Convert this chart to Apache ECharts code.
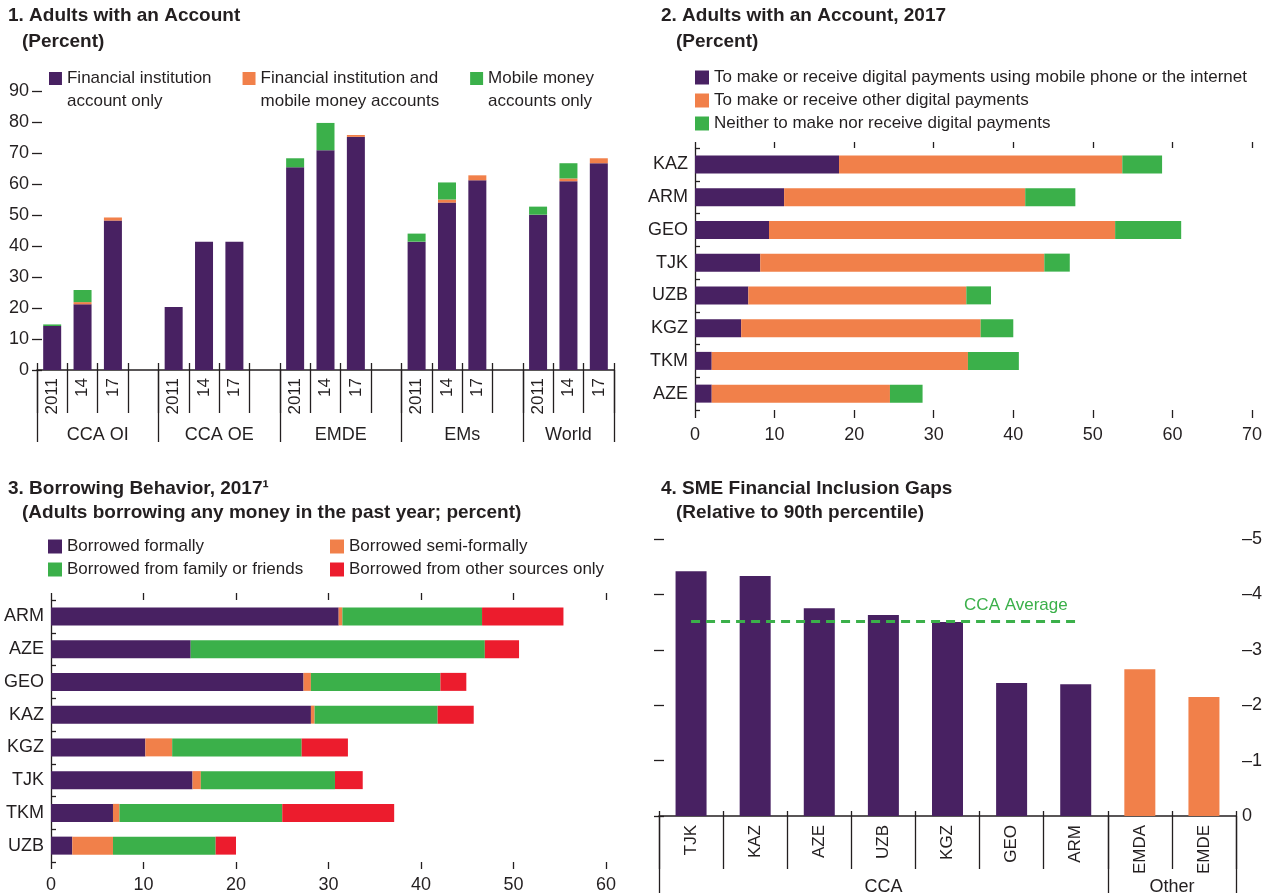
<!DOCTYPE html>
<html><head><meta charset="utf-8">
<script src="https://cdn.jsdelivr.net/npm/echarts@6/dist/echarts.min.js"></script>
<style>html,body{margin:0;padding:0;background:#fff}#c{width:1268px;height:896px}</style>
</head><body><div id="c"></div>
<script>
// ---------- Panel 1: Adults with an Account (Percent) ----------
const p1Groups = ['CCA OI', 'CCA OE', 'EMDE', 'EMs', 'World'];
const p1Years = ['2011', '14', '17'];
const p1FinOnly = [14.2, 21.2, 48.2, 20.3, 41.4, 41.4, 65.4, 70.9, 75.2, 41.4, 54.0, 61.2, 50.1, 60.9, 66.7];
const p1Both    = [0, 0.7, 1.0, 0, 0, 0, 0, 0, 0.6, 0, 1.0, 1.6, 0, 0.9, 1.6];
const p1Mobile  = [0.5, 3.9, 0, 0, 0, 0, 2.9, 8.8, 0, 2.6, 5.5, 0, 2.6, 4.9, 0];
const p1SeriesNames = ['Financial institution account only', 'Financial institution and mobile money accounts', 'Mobile money accounts only'];
const p1LegendText = ['Financial institution\naccount only', 'Financial institution and\nmobile money accounts', 'Mobile money\naccounts only'];

// ---------- Panel 2: Adults with an Account, 2017 ----------
const p2Countries = ['KAZ', 'ARM', 'GEO', 'TJK', 'UZB', 'KGZ', 'TKM', 'AZE'];
const p2MobileInternet = [18.1, 11.2, 9.3, 8.2, 6.7, 5.8, 2.1, 2.1];
const p2OtherDigital   = [35.6, 30.3, 43.5, 35.7, 27.4, 30.1, 32.2, 22.4];
const p2Neither        = [5.0, 6.3, 8.3, 3.2, 3.1, 4.1, 6.4, 4.1];
const p2SeriesNames = ['To make or receive digital payments using mobile phone or the internet', 'To make or receive other digital payments', 'Neither to make nor receive digital payments'];

// ---------- Panel 3: Borrowing Behavior, 2017 ----------
const p3Countries = ['ARM', 'AZE', 'GEO', 'KAZ', 'KGZ', 'TJK', 'TKM', 'UZB'];
const p3Formal = [31.1, 15.1, 27.3, 28.1, 10.2, 15.3, 6.7, 2.3];
const p3Semi   = [0.4, 0, 0.8, 0.4, 2.9, 0.9, 0.7, 4.4];
const p3Family = [15.1, 31.8, 14.0, 13.3, 14.0, 14.5, 17.6, 11.1];
const p3Other  = [8.8, 3.7, 2.8, 3.9, 5.0, 3.0, 12.1, 2.2];
const p3SeriesNames = ['Borrowed formally', 'Borrowed semi-formally', 'Borrowed from family or friends', 'Borrowed from other sources only'];

// ---------- Panel 4: SME Financial Inclusion Gaps ----------
const p4Countries = ['TJK', 'KAZ', 'AZE', 'UZB', 'KGZ', 'GEO', 'ARM', 'EMDA', 'EMDE'];
const p4Group = ['CCA', 'CCA', 'CCA', 'CCA', 'CCA', 'CCA', 'CCA', 'Other', 'Other'];
const p4Gap = [-4.42, -4.33, -3.75, -3.63, -3.50, -2.40, -2.38, -2.65, -2.15];
const p4CcaAverage = -3.51;
const p4GroupNames = ['CCA', 'Other'];

// ---------- styling ----------
const PURPLE = '#482162', ORANGE = '#f1804a', GREEN = '#3bb04a', RED = '#ec1c2d';
const TXT = '#231f20';
const F = '"Liberation Sans", Arial, sans-serif';
const FS = 18;      // axis labels
const FSL = 17;     // legend
const FSR = 17;     // rotated category labels
const FST = 19;     // titles

function toSlots(arr) {
  const out = [];
  p1Groups.forEach((g, gi) => {
    p1Years.forEach((y, yi) => { const v = arr[gi * 3 + yi]; out.push(v ? v : null); });
    if (gi < p1Groups.length - 1) out.push(null);
  });
  return out;
}
const p1SlotLabels = [];
p1Groups.forEach((g, gi) => { p1Years.forEach(y => p1SlotLabels.push(y)); if (gi < p1Groups.length - 1) p1SlotLabels.push(''); });
const p1NSlots = p1SlotLabels.length;
const p1GroupStart = p1Groups.map((g, gi) => gi * 4);
const p1GroupEnd = p1Groups.map((g, gi) => Math.min(gi * 4 + 4, p1NSlots));
const p1GroupBounds = p1GroupStart.concat([p1NSlots]);
const p1GroupCenters = p1Groups.map((g, gi) => (p1GroupStart[gi] + p1GroupEnd[gi]) / 2);

const p4Bounds = [0];
const p4Centers = [];
p4GroupNames.forEach(gn => {
  const first = p4Group.indexOf(gn), last = p4Group.lastIndexOf(gn);
  p4Bounds.push(last + 1);
  p4Centers.push((first + last + 1) / 2);
});

const axisCol = { color: TXT, width: 1.3 };
const lbl = { color: TXT, fontSize: FS, fontFamily: F };
const lblR = { color: TXT, fontSize: FSR, fontFamily: F };
const tStyle = { fontFamily: F, fontWeight: 'bold', fontSize: FST, color: TXT };
const legTxt = { fontSize: FSL, lineHeight: 19, color: TXT, fontFamily: F };

const option = {
  backgroundColor: '#fff',
  animation: false,
  textStyle: { fontFamily: F, color: TXT },
  title: [
    { left: 8, top: 6, padding: 0, text: '1. Adults with an Account', textStyle: tStyle },
    { left: 22, top: 32, padding: 0, text: '(Percent)', textStyle: tStyle },
    { left: 661, top: 6, padding: 0, text: '2. Adults with an Account, 2017', textStyle: tStyle },
    { left: 676, top: 32, padding: 0, text: '(Percent)', textStyle: tStyle },
    { left: 8, top: 479, padding: 0, text: '3. Borrowing Behavior, 2017\u00b9', textStyle: tStyle },
    { left: 22, top: 503, padding: 0, text: '(Adults borrowing any money in the past year; percent)', textStyle: tStyle },
    { left: 661, top: 479, padding: 0, text: '4. SME Financial Inclusion Gaps', textStyle: tStyle },
    { left: 676, top: 503, padding: 0, text: '(Relative to 90th percentile)', textStyle: tStyle }
  ],
  legend: [
    { left: 49, top: 67, padding: 0, itemGap: 31, itemWidth: 13, itemHeight: 36,
      icon: 'path://M0,0H13V13H0ZM0,36H0.1V36.1H0Z',
      data: p1SeriesNames, formatter: n => p1LegendText[p1SeriesNames.indexOf(n)],
      textStyle: { fontSize: FSL, lineHeight: 23, color: TXT, fontFamily: F } },
    { left: 695, top: 68, padding: 0, orient: 'vertical', itemGap: 4, itemWidth: 14, itemHeight: 14, icon: 'rect',
      data: p2SeriesNames, textStyle: legTxt },
    { left: 48, top: 537, padding: 0, orient: 'vertical', itemGap: 4, itemWidth: 14, itemHeight: 14, icon: 'rect',
      data: [p3SeriesNames[0], p3SeriesNames[2]], textStyle: legTxt },
    { left: 330, top: 537, padding: 0, orient: 'vertical', itemGap: 4, itemWidth: 14, itemHeight: 14, icon: 'rect',
      data: [p3SeriesNames[1], p3SeriesNames[3]], textStyle: legTxt }
  ],
  grid: [
    { left: 37, right: 1268 - 614, top: 91, bottom: 896 - 370 },
    { left: 695, right: 1268 - 1252, top: 148, bottom: 896 - 410 },
    { left: 51, right: 1268 - 606, top: 600, bottom: 896 - 862 },
    { left: 659, right: 1268 - 1236, top: 539, bottom: 896 - 816 }
  ],
  xAxis: [
    { gridIndex: 0, type: 'category', data: p1SlotLabels, position: 'bottom',
      axisLine: { show: true, lineStyle: { color: TXT, width: 1.6 } },
      axisTick: { show: true, interval: 0, length: 43, lineStyle: axisCol },
      axisLabel: Object.assign({ interval: 0, rotate: 90, margin: 8 }, lblR),
      splitLine: { show: false } },
    { gridIndex: 0, type: 'value', min: 0, max: p1NSlots, position: 'bottom',
      axisLine: { show: false }, splitLine: { show: false },
      axisTick: { show: true, length: 72, customValues: p1GroupBounds, lineStyle: axisCol },
      axisLabel: Object.assign({ margin: 56, customValues: p1GroupCenters,
        formatter: v => { const i = p1GroupCenters.findIndex(c => Math.abs(c - v) < 1e-6); return i >= 0 ? p1Groups[i] : ''; } }, lbl) },
    { gridIndex: 0, type: 'value', min: 0, max: p1NSlots, interval: 1, position: 'bottom',
      axisLine: { show: false }, splitLine: { show: false }, axisLabel: { show: false },
      axisTick: { show: true, inside: true, length: 7, lineStyle: axisCol } },
    { gridIndex: 1, type: 'value', min: 0, max: 70, interval: 10, position: 'bottom',
      axisLine: { show: false }, splitLine: { show: false },
      axisTick: { show: true, length: 8, lineStyle: axisCol },
      axisLabel: Object.assign({ margin: 16 }, lbl) },
    { gridIndex: 1, type: 'value', min: 0, max: 70, interval: 10, position: 'top',
      axisLine: { show: false }, splitLine: { show: false }, axisLabel: { show: false },
      axisTick: { show: true, length: 6, lineStyle: axisCol } },
    { gridIndex: 2, type: 'value', min: 0, max: 60, interval: 10, position: 'bottom',
      axisLine: { show: false }, splitLine: { show: false },
      axisTick: { show: true, length: 7, lineStyle: axisCol },
      axisLabel: Object.assign({ margin: 14 }, lbl) },
    { gridIndex: 2, type: 'value', min: 0, max: 60, interval: 10, position: 'top',
      axisLine: { show: false }, splitLine: { show: false }, axisLabel: { show: false },
      axisTick: { show: true, length: 7, lineStyle: axisCol } },
    { gridIndex: 3, type: 'category', data: p4Countries, position: 'bottom',
      axisLine: { show: true, lineStyle: { color: TXT, width: 1.6 } },
      axisTick: { show: true, interval: 0, length: 53, lineStyle: axisCol },
      axisLabel: Object.assign({ interval: 0, rotate: 90, margin: 9 }, lblR),
      splitLine: { show: false } },
    { gridIndex: 3, type: 'value', min: 0, max: p4Countries.length, position: 'bottom',
      axisLine: { show: false }, splitLine: { show: false },
      axisTick: { show: true, length: 77, customValues: p4Bounds, lineStyle: axisCol },
      axisLabel: Object.assign({ margin: 62, customValues: p4Centers,
        formatter: v => { const i = p4Centers.findIndex(c => Math.abs(c - v) < 1e-6); return i >= 0 ? p4GroupNames[i] : ''; } }, lbl) },
    { gridIndex: 3, type: 'value', min: 0, max: p4Countries.length, interval: 1, position: 'bottom',
      axisLine: { show: false }, splitLine: { show: false }, axisLabel: { show: false },
      axisTick: { show: true, inside: true, length: 5, lineStyle: axisCol } }
  ],
  yAxis: [
    { gridIndex: 0, type: 'value', min: 0, max: 90, interval: 10, position: 'left',
      axisLine: { show: false }, splitLine: { show: false },
      axisTick: { show: true, length: 5, lineStyle: axisCol },
      axisLabel: Object.assign({ margin: 8 }, lbl) },
    { gridIndex: 0, type: 'value', min: 0, max: 90, interval: 10, position: 'right',
      axisLine: { show: false }, splitLine: { show: false }, axisLabel: { show: false },
      axisTick: { show: true, length: 5, lineStyle: axisCol } },
    { gridIndex: 1, type: 'category', data: p2Countries, inverse: true,
      axisLine: { show: true, lineStyle: axisCol },
      axisTick: { show: true, inside: true, interval: 0, length: 5, lineStyle: axisCol },
      axisLabel: Object.assign({ interval: 0, margin: 7 }, lbl) },
    { gridIndex: 2, type: 'category', data: p3Countries, inverse: true,
      axisLine: { show: true, lineStyle: axisCol },
      axisTick: { show: true, inside: true, interval: 0, length: 5, lineStyle: axisCol },
      axisLabel: Object.assign({ interval: 0, margin: 7 }, lbl) },
    { gridIndex: 3, type: 'value', min: -5, max: 0, interval: 1, inverse: true, position: 'left',
      axisLine: { show: false }, splitLine: { show: false }, axisLabel: { show: false },
      axisTick: { show: true, length: 5, lineStyle: axisCol } },
    { gridIndex: 3, type: 'value', min: -5, max: 0, interval: 1, inverse: true, position: 'right',
      axisLine: { show: false }, splitLine: { show: false },
      axisTick: { show: true, length: 5, lineStyle: axisCol },
      axisLabel: Object.assign({ margin: 6, formatter: v => v < 0 ? '\u2013' + (-v) : String(v) }, lbl) }
  ],
  series: [
    { name: p1SeriesNames[0], type: 'bar', stack: 'p1', xAxisIndex: 0, yAxisIndex: 0, barWidth: 18, itemStyle: { color: PURPLE }, data: toSlots(p1FinOnly) },
    { name: p1SeriesNames[1], type: 'bar', stack: 'p1', xAxisIndex: 0, yAxisIndex: 0, barWidth: 18, itemStyle: { color: ORANGE }, data: toSlots(p1Both) },
    { name: p1SeriesNames[2], type: 'bar', stack: 'p1', xAxisIndex: 0, yAxisIndex: 0, barWidth: 18, itemStyle: { color: GREEN }, data: toSlots(p1Mobile) },

    { name: p2SeriesNames[0], type: 'bar', stack: 'p2', xAxisIndex: 3, yAxisIndex: 2, barWidth: 18, itemStyle: { color: PURPLE }, data: p2MobileInternet },
    { name: p2SeriesNames[1], type: 'bar', stack: 'p2', xAxisIndex: 3, yAxisIndex: 2, barWidth: 18, itemStyle: { color: ORANGE }, data: p2OtherDigital },
    { name: p2SeriesNames[2], type: 'bar', stack: 'p2', xAxisIndex: 3, yAxisIndex: 2, barWidth: 18, itemStyle: { color: GREEN }, data: p2Neither },

    { name: p3SeriesNames[0], type: 'bar', stack: 'p3', xAxisIndex: 5, yAxisIndex: 3, barWidth: 18, itemStyle: { color: PURPLE }, data: p3Formal },
    { name: p3SeriesNames[1], type: 'bar', stack: 'p3', xAxisIndex: 5, yAxisIndex: 3, barWidth: 18, itemStyle: { color: ORANGE }, data: p3Semi },
    { name: p3SeriesNames[2], type: 'bar', stack: 'p3', xAxisIndex: 5, yAxisIndex: 3, barWidth: 18, itemStyle: { color: GREEN }, data: p3Family },
    { name: p3SeriesNames[3], type: 'bar', stack: 'p3', xAxisIndex: 5, yAxisIndex: 3, barWidth: 18, itemStyle: { color: RED }, data: p3Other },

    { name: 'SME gap', type: 'bar', xAxisIndex: 7, yAxisIndex: 5, barWidth: 31,
      itemStyle: { color: p => p4Group[p.dataIndex] === 'CCA' ? PURPLE : ORANGE },
      data: p4Gap,
      markLine: { silent: true, symbol: 'none', animation: false,
        lineStyle: { color: GREEN, type: [9, 6], width: 3 },
        label: { show: true, position: 'insideEndTop', distance: 8, formatter: 'CCA Average', color: GREEN, fontSize: FSL, fontFamily: F },
        data: [[{ coord: ['TJK', p4CcaAverage] }, { coord: ['ARM', p4CcaAverage] }]] } }
  ]
};
const chart = echarts.init(document.getElementById('c'), null, { renderer: 'canvas' });
chart.setOption(option);
</script></body></html>
